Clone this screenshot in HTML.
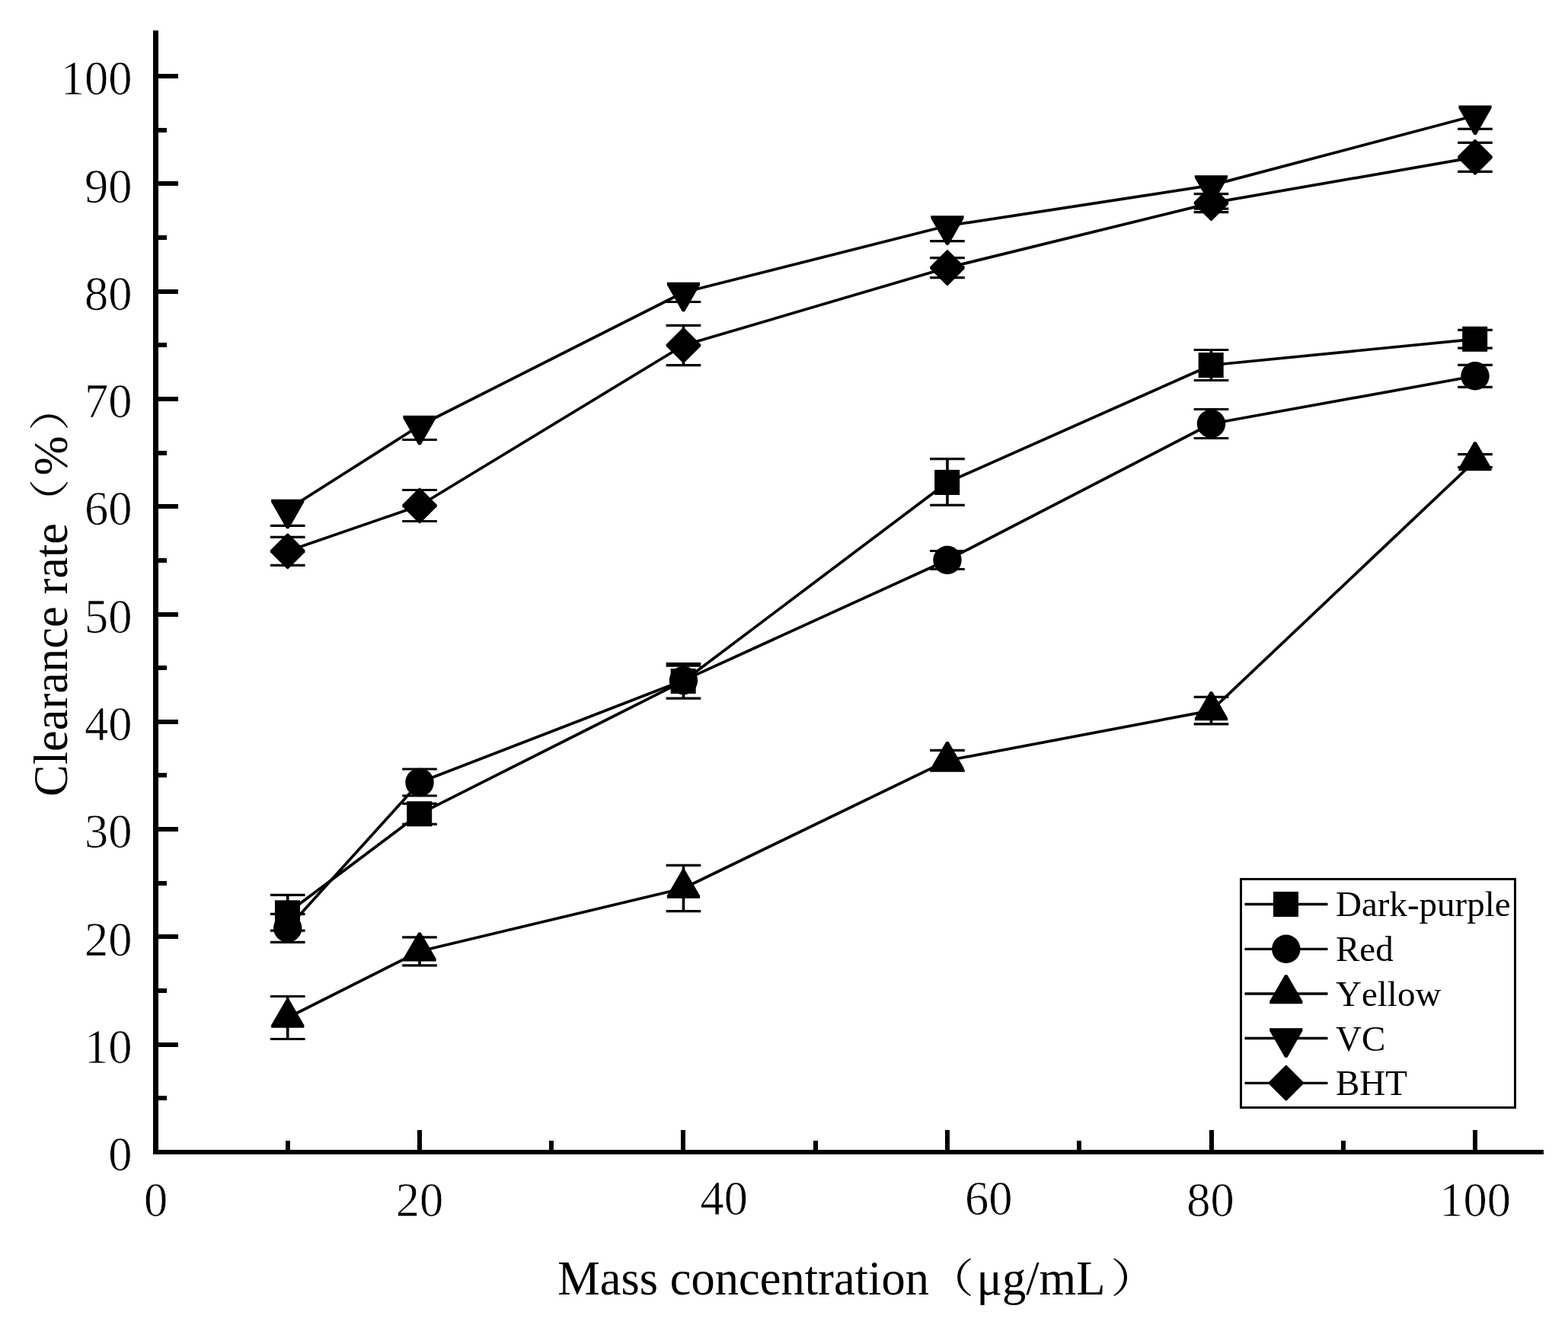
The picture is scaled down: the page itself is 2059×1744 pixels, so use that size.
<!DOCTYPE html>
<html lang="en">
<head>
<meta charset="utf-8">
<title>Clearance rate vs mass concentration</title>
<style>
html,body{margin:0;padding:0;background:#fff;}
body{width:2059px;height:1744px;overflow:hidden;}
svg{display:block;}
text{font-family:"Liberation Serif","Noto Serif CJK SC",serif;fill:#000;font-kerning:none;}
.tick{font-size:62.5px;stroke:#fff;stroke-width:0.7px;}
.title{font-size:62.5px;}
.leg{font-size:47px;}
.par{font-size:53px;}
</style>
</head>
<body>
<svg width="2059" height="1744" viewBox="0 0 2059 1744">
<rect x="0" y="0" width="2059" height="1744" fill="#fff"/>
<g fill="#000" shape-rendering="crispEdges">
<rect x="201" y="40" width="7" height="1476"/>
<rect x="201" y="1510" width="1826" height="6"/>
<rect x="208" y="1369" width="26" height="6"/>
<rect x="208" y="1227" width="26" height="6"/>
<rect x="208" y="1086" width="26" height="6"/>
<rect x="208" y="945" width="26" height="6"/>
<rect x="208" y="804" width="26" height="6"/>
<rect x="208" y="662" width="26" height="6"/>
<rect x="208" y="521" width="26" height="6"/>
<rect x="208" y="380" width="26" height="6"/>
<rect x="208" y="238" width="26" height="6"/>
<rect x="208" y="97" width="26" height="6"/>
<rect x="208" y="1439" width="11" height="6"/>
<rect x="208" y="1298" width="11" height="6"/>
<rect x="208" y="1157" width="11" height="6"/>
<rect x="208" y="1015" width="11" height="6"/>
<rect x="208" y="874" width="11" height="6"/>
<rect x="208" y="733" width="11" height="6"/>
<rect x="208" y="592" width="11" height="6"/>
<rect x="208" y="450" width="11" height="6"/>
<rect x="208" y="309" width="11" height="6"/>
<rect x="208" y="168" width="11" height="6"/>
<rect x="548" y="1484" width="6" height="26"/>
<rect x="894" y="1484" width="6" height="26"/>
<rect x="1241" y="1484" width="6" height="26"/>
<rect x="1588" y="1484" width="6" height="26"/>
<rect x="1934" y="1484" width="6" height="26"/>
<rect x="375" y="1498" width="6" height="12"/>
<rect x="721" y="1498" width="6" height="12"/>
<rect x="1068" y="1498" width="6" height="12"/>
<rect x="1414" y="1498" width="6" height="12"/>
<rect x="1761" y="1498" width="6" height="12"/>
</g>
<g class="tick" text-anchor="end">
<text x="173.6" y="1537.2">0</text>
<text x="173.6" y="1395.9">10</text>
<text x="173.6" y="1254.6">20</text>
<text x="173.6" y="1113.3">30</text>
<text x="173.6" y="972">40</text>
<text x="173.6" y="830.7">50</text>
<text x="173.6" y="689.4">60</text>
<text x="173.6" y="548.1">70</text>
<text x="173.6" y="406.8">80</text>
<text x="173.6" y="265.5">90</text>
<text x="173.6" y="124.2">100</text>
</g>
<g class="tick" text-anchor="middle">
<text x="204.5" y="1597">0</text>
<text x="551" y="1597">20</text>
<text x="950.8" y="1595.4">40</text>
<text x="1298.2" y="1595.4">60</text>
<text x="1589.6" y="1597">80</text>
<text x="1937" y="1597">100</text>
</g>
<text class="title" x="732.2" y="1700">Mass concentration<tspan class="par" dx="-3.4" dy="-2.5" textLength="62.5" lengthAdjust="spacingAndGlyphs">（</tspan><tspan dx="3.4" dy="2.5">μg/mL</tspan><tspan class="par" dx="6.8" dy="-2.5" textLength="62.5" lengthAdjust="spacingAndGlyphs">）</tspan></text>
<text class="title" transform="translate(87.8,1046) rotate(-90)">Clearance rate<tspan class="par" dx="-4.4" dy="-2.5" textLength="62.5" lengthAdjust="spacingAndGlyphs">（</tspan><tspan dx="4.4" dy="2.5">%</tspan><tspan class="par" dx="6.3" dy="-2.5" textLength="62.5" lengthAdjust="spacingAndGlyphs">）</tspan></text>
<g fill="none" stroke="#000" stroke-width="3.7" stroke-linejoin="round">
<polyline points="377.75,1198.8 551,1068.8 897.5,894.45 1244,633.5 1590.5,479.5 1937,445.3"/>
<polyline points="377.75,1218.9 551,1027.5 897.5,893.6 1244,735.5 1590.5,556.5 1937,493.8"/>
<polyline points="377.75,1336.5 551,1249.3 897.5,1166.5 1244,998.8 1590.5,933.1 1937,605.1"/>
<polyline points="377.75,669 551,559 897.5,384 1244,296.5 1590.5,243.4 1937,151.8"/>
<polyline points="377.75,723.85 551,664 897.5,453.5 1244,351.6 1590.5,266.6 1937,206.4"/>
</g>
<g fill="none" stroke="#000">
<path stroke-width="3.6" d="M377.75,1175.4V1222.2M551,1055.3V1082.3M897.5,871.6V917.1M1244,602.6V663.4M1590.5,459.5V499.5M1937,433.4V457.2M377.75,1200.4V1237.4M551,1010V1045M897.5,874.1V917.1M1244,723.5V747.5M1590.5,537.5V575.5M1937,479.3V508.3M377.75,1308.5V1364.5M551,1230.8V1267.8M897.5,1136.3V1196.7M1244,985.4V1012.2M1590.5,915.3V950.9M1937,596.55V613.65M377.75,669V690.4M551,559V577.5M897.5,384V396.5M1244,296.5V316.6M1590.5,243.4V274.2M1937,151.8V169.4M377.75,705.4V742.3M551,643.5V684.5M897.5,427.4V479.6M1244,338.6V364.6M1590.5,254.6V278.6M1937,187.4V225.4"/>
<path stroke-width="3.2" d="M354.95,1175.4H400.55M354.95,1222.2H400.55M528.2,1055.3H573.8M528.2,1082.3H573.8M874.7,871.6H920.3M874.7,917.1H920.3M1221.2,602.6H1266.8M1221.2,663.4H1266.8M1567.7,459.5H1613.3M1567.7,499.5H1613.3M1914.2,433.4H1959.8M1914.2,457.2H1959.8M354.95,1200.4H400.55M354.95,1237.4H400.55M528.2,1010H573.8M528.2,1045H573.8M874.7,874.1H920.3M874.7,917.1H920.3M1221.2,723.5H1266.8M1221.2,747.5H1266.8M1567.7,537.5H1613.3M1567.7,575.5H1613.3M1914.2,479.3H1959.8M1914.2,508.3H1959.8M354.95,1308.5H400.55M354.95,1364.5H400.55M528.2,1230.8H573.8M528.2,1267.8H573.8M874.7,1136.3H920.3M874.7,1196.7H920.3M1221.2,985.4H1266.8M1221.2,1012.2H1266.8M1567.7,915.3H1613.3M1567.7,950.9H1613.3M1914.2,596.55H1959.8M1914.2,613.65H1959.8M354.95,690.4H400.55M528.2,577.5H573.8M874.7,396.5H920.3M1221.2,316.6H1266.8M1567.7,274.2H1613.3M1914.2,169.4H1959.8M354.95,705.4H400.55M354.95,742.3H400.55M528.2,643.5H573.8M528.2,684.5H573.8M874.7,427.4H920.3M874.7,479.6H920.3M1221.2,338.6H1266.8M1221.2,364.6H1266.8M1567.7,254.6H1613.3M1567.7,278.6H1613.3M1914.2,187.4H1959.8M1914.2,225.4H1959.8"/>
</g>
<g fill="#000">
<rect x="360.95" y="1182.3" width="33" height="33"/>
<rect x="534.2" y="1052.3" width="33" height="33"/>
<rect x="880.7" y="877.95" width="33" height="33"/>
<rect x="1227.2" y="617" width="33" height="33"/>
<rect x="1573.7" y="463" width="33" height="33"/>
<rect x="1920.2" y="428.8" width="33" height="33"/>
<circle cx="377.75" cy="1218.9" r="18.7"/>
<circle cx="551" cy="1027.5" r="18.7"/>
<circle cx="897.5" cy="893.6" r="18.7"/>
<circle cx="1244" cy="735.5" r="18.7"/>
<circle cx="1590.5" cy="556.5" r="18.7"/>
<circle cx="1937" cy="493.8" r="18.7"/>
<polygon points="376.15,1311.7 379.35,1311.7 399.35,1346.3 399.35,1349.7 356.15,1349.7 356.15,1346.3"/>
<polygon points="549.4,1224.5 552.6,1224.5 572.6,1259.1 572.6,1262.5 529.4,1262.5 529.4,1259.1"/>
<polygon points="895.9,1141.7 899.1,1141.7 919.1,1176.3 919.1,1179.7 875.9,1179.7 875.9,1176.3"/>
<polygon points="1242.4,974 1245.6,974 1265.6,1008.6 1265.6,1012 1222.4,1012 1222.4,1008.6"/>
<polygon points="1588.9,908.3 1592.1,908.3 1612.1,942.9 1612.1,946.3 1568.9,946.3 1568.9,942.9"/>
<polygon points="1935.4,580.3 1938.6,580.3 1958.6,614.9 1958.6,618.3 1915.4,618.3 1915.4,614.9"/>
<polygon points="356.15,655.8 399.35,655.8 399.35,659.2 379.35,694.2 376.15,694.2 356.15,659.2"/>
<polygon points="529.4,545.8 572.6,545.8 572.6,549.2 552.6,584.2 549.4,584.2 529.4,549.2"/>
<polygon points="875.9,370.8 919.1,370.8 919.1,374.2 899.1,409.2 895.9,409.2 875.9,374.2"/>
<polygon points="1222.4,283.3 1265.6,283.3 1265.6,286.7 1245.6,321.7 1242.4,321.7 1222.4,286.7"/>
<polygon points="1568.9,230.2 1612.1,230.2 1612.1,233.6 1592.1,268.6 1588.9,268.6 1568.9,233.6"/>
<polygon points="1915.4,138.6 1958.6,138.6 1958.6,142 1938.6,177 1935.4,177 1915.4,142"/>
<polygon points="377.05,700.55 378.45,700.55 400.45,722.55 400.45,725.15 378.45,747.15 377.05,747.15 355.05,725.15 355.05,722.55"/>
<polygon points="550.3,640.7 551.7,640.7 573.7,662.7 573.7,665.3 551.7,687.3 550.3,687.3 528.3,665.3 528.3,662.7"/>
<polygon points="896.8,430.2 898.2,430.2 920.2,452.2 920.2,454.8 898.2,476.8 896.8,476.8 874.8,454.8 874.8,452.2"/>
<polygon points="1243.3,328.3 1244.7,328.3 1266.7,350.3 1266.7,352.9 1244.7,374.9 1243.3,374.9 1221.3,352.9 1221.3,350.3"/>
<polygon points="1589.8,243.3 1591.2,243.3 1613.2,265.3 1613.2,267.9 1591.2,289.9 1589.8,289.9 1567.8,267.9 1567.8,265.3"/>
<polygon points="1936.3,183.1 1937.7,183.1 1959.7,205.1 1959.7,207.7 1937.7,229.7 1936.3,229.7 1914.3,207.7 1914.3,205.1"/>
</g>
<rect x="1629.5" y="1154.5" width="360" height="300" fill="#fff" stroke="#000" stroke-width="3"/>
<g fill="none" stroke="#000" stroke-width="3.3">
<path d="M1634.5,1187.5H1743.5"/>
<path d="M1634.5,1246.3H1743.5"/>
<path d="M1634.5,1305H1743.5"/>
<path d="M1634.5,1363.5H1743.5"/>
<path d="M1634.5,1422.3H1743.5"/>
</g>
<g fill="#000">
<rect x="1672" y="1171" width="33" height="33"/>
<circle cx="1688.8" cy="1246.3" r="18.7"/>
<polygon points="1687.2,1280.2 1690.4,1280.2 1710.4,1314.8 1710.4,1318.2 1667.2,1318.2 1667.2,1314.8"/>
<polygon points="1667.2,1350.3 1710.4,1350.3 1710.4,1353.7 1690.4,1388.7 1687.2,1388.7 1667.2,1353.7"/>
<polygon points="1688.1,1399 1689.5,1399 1711.5,1421 1711.5,1423.6 1689.5,1445.6 1688.1,1445.6 1666.1,1423.6 1666.1,1421"/>
</g>
<g class="leg">
<text x="1754" y="1203">Dark-purple</text>
<text x="1754" y="1262">Red</text>
<text x="1754" y="1321">Yellow</text>
<text x="1754" y="1379.5">VC</text>
<text x="1754" y="1438">BHT</text>
</g>
</svg>
</body>
</html>
